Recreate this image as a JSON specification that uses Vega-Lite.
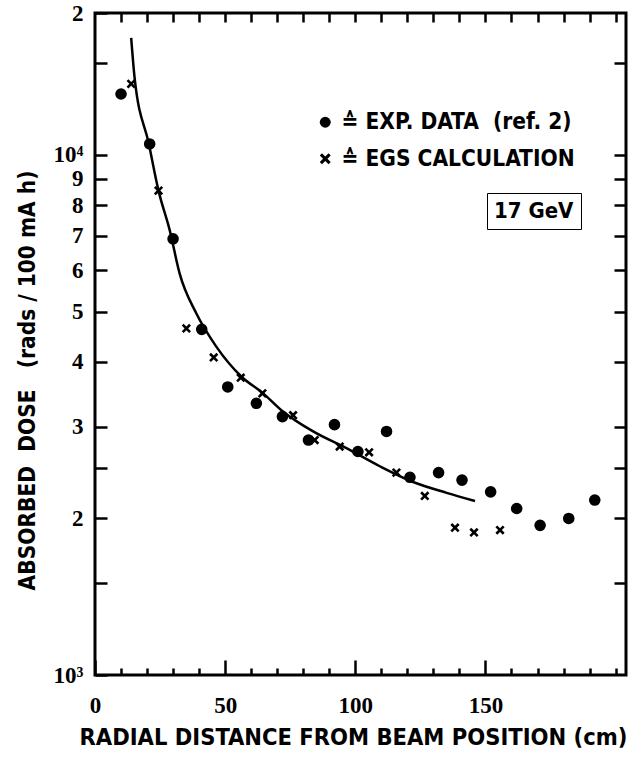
{
  "$schema": "https://vega.github.io/schema/vega-lite/v6.json",
  "autosize": {"type": "none"},
  "width": 531,
  "height": 662,
  "padding": {"left": 95, "top": 13, "right": 8, "bottom": 90},
  "background": "white",
  "config": {
    "view": {"stroke": "black", "strokeWidth": 3},
    "axis": {"domain": false, "grid": false, "tickColor": "black", "tickWidth": 2.5, "labelColor": "black", "titleColor": "black"},
    "legend": {"labelColor": "black"}
  },
  "datasets": {
    "curve": [
      {"r": 13.9, "dose": 16800, "energy": "17 GeV"},
      {"r": 15.2, "dose": 14100, "energy": "17 GeV"},
      {"r": 20.7, "dose": 10500, "energy": "17 GeV"},
      {"r": 24.4, "dose": 8540, "energy": "17 GeV"},
      {"r": 28.7, "dose": 7170, "energy": "17 GeV"},
      {"r": 32.5, "dose": 5920, "energy": "17 GeV"},
      {"r": 38.9, "dose": 4960, "energy": "17 GeV"},
      {"r": 46.6, "dose": 4280, "energy": "17 GeV"},
      {"r": 56.2, "dose": 3750, "energy": "17 GeV"},
      {"r": 64.6, "dose": 3480, "energy": "17 GeV"},
      {"r": 71.6, "dose": 3230, "energy": "17 GeV"},
      {"r": 83.8, "dose": 2940, "energy": "17 GeV"},
      {"r": 96.6, "dose": 2730, "energy": "17 GeV"},
      {"r": 109.4, "dose": 2520, "energy": "17 GeV"},
      {"r": 122.2, "dose": 2350, "energy": "17 GeV"},
      {"r": 135.1, "dose": 2240, "energy": "17 GeV"},
      {"r": 146, "dose": 2160, "energy": "17 GeV"}
    ],
    "exp": [
      {"r": 10, "dose": 13100, "series": "EXP. DATA (ref. 2)"},
      {"r": 21, "dose": 10500, "series": "EXP. DATA (ref. 2)"},
      {"r": 30, "dose": 6900, "series": "EXP. DATA (ref. 2)"},
      {"r": 41, "dose": 4620, "series": "EXP. DATA (ref. 2)"},
      {"r": 51, "dose": 3580, "series": "EXP. DATA (ref. 2)"},
      {"r": 62, "dose": 3330, "series": "EXP. DATA (ref. 2)"},
      {"r": 72, "dose": 3140, "series": "EXP. DATA (ref. 2)"},
      {"r": 82, "dose": 2830, "series": "EXP. DATA (ref. 2)"},
      {"r": 92, "dose": 3030, "series": "EXP. DATA (ref. 2)"},
      {"r": 101, "dose": 2690, "series": "EXP. DATA (ref. 2)"},
      {"r": 112, "dose": 2940, "series": "EXP. DATA (ref. 2)"},
      {"r": 121, "dose": 2400, "series": "EXP. DATA (ref. 2)"},
      {"r": 132, "dose": 2450, "series": "EXP. DATA (ref. 2)"},
      {"r": 141, "dose": 2370, "series": "EXP. DATA (ref. 2)"},
      {"r": 152, "dose": 2250, "series": "EXP. DATA (ref. 2)"},
      {"r": 162, "dose": 2090, "series": "EXP. DATA (ref. 2)"},
      {"r": 171, "dose": 1940, "series": "EXP. DATA (ref. 2)"},
      {"r": 182, "dose": 2000, "series": "EXP. DATA (ref. 2)"},
      {"r": 192, "dose": 2170, "series": "EXP. DATA (ref. 2)"}
    ],
    "egs": [
      {"r": 13.9, "dose": 13700, "series": "EGS CALCULATION"},
      {"r": 24.4, "dose": 8540, "series": "EGS CALCULATION"},
      {"r": 35.1, "dose": 4640, "series": "EGS CALCULATION"},
      {"r": 45.6, "dose": 4080, "series": "EGS CALCULATION"},
      {"r": 56, "dose": 3730, "series": "EGS CALCULATION"},
      {"r": 64.3, "dose": 3480, "series": "EGS CALCULATION"},
      {"r": 76.1, "dose": 3160, "series": "EGS CALCULATION"},
      {"r": 84.4, "dose": 2830, "series": "EGS CALCULATION"},
      {"r": 94, "dose": 2750, "series": "EGS CALCULATION"},
      {"r": 105.3, "dose": 2680, "series": "EGS CALCULATION"},
      {"r": 115.8, "dose": 2450, "series": "EGS CALCULATION"},
      {"r": 126.7, "dose": 2210, "series": "EGS CALCULATION"},
      {"r": 138.3, "dose": 1920, "series": "EGS CALCULATION"},
      {"r": 145.6, "dose": 1880, "series": "EGS CALCULATION"},
      {"r": 155.6, "dose": 1900, "series": "EGS CALCULATION"}
    ]
  },
  "layer": [
    {
      "data": {"name": "curve"},
      "mark": {"type": "line", "interpolate": "monotone", "strokeWidth": 2.5},
      "encoding": {
        "x": {
          "field": "r", "type": "quantitative",
          "scale": {"domain": [0, 204], "nice": false, "zero": false},
          "axis": {
            "orient": "bottom", "values": [0, 50, 100, 150], "tickSize": -15, "labelPadding": 34,
            "labelFont": "Liberation Sans Narrow", "labelFontWeight": "bold", "labelFontSize": 23,
            "labelFlush": false,
            "title": "RADIAL DISTANCE FROM BEAM POSITION (cm)",
            "titleFont": "DejaVu Sans Condensed", "titleFontWeight": "bold", "titleFontSize": 23.5,
            "titleX": 258, "titleY": 62, "titleBaseline": "middle", "titleAlign": "center"
          }
        },
        "y": {
          "field": "dose", "type": "quantitative",
          "scale": {"type": "log", "domain": [1000, 18750], "nice": false},
          "axis": {
            "orient": "left",
            "values": [1000, 1500, 2000, 2500, 3000, 4000, 5000, 6000, 7000, 8000, 9000, 10000, 15000, 18750],
            "labelExpr": "datum.value == 1000 ? '10³' : datum.value == 10000 ? '10⁴' : datum.value == 18750 ? '2' : (datum.value == 1500 || datum.value == 2500 || datum.value == 15000) ? '' : '' + (datum.value / 1000)",
            "tickSize": -12, "labelPadding": 24,
            "labelFont": "Liberation Sans Narrow", "labelFontWeight": "bold", "labelFontSize": 23,
            "labelFlush": false,
            "title": "ABSORBED\u00a0\u00a0DOSE\u00a0\u00a0\u00a0(rads\u00a0/\u00a0100\u00a0mA\u00a0h)",
            "titleFont": "DejaVu Sans Condensed", "titleFontWeight": "bold", "titleFontSize": 22.5,
            "titleX": -68, "titleY": 367, "titleBaseline": "middle", "titleAlign": "center", "titleAngle": -90
          }
        },
        "color": {
          "field": "energy", "type": "nominal",
          "scale": {"range": ["black"]},
          "legend": {
            "orient": "none", "legendX": 392, "legendY": 180, "title": null,
            "strokeColor": "black", "padding": 7,
            "symbolType": "circle", "symbolSize": 0, "symbolStrokeWidth": 0, "symbolOpacity": 0, "labelOffset": -22,
            "labelFont": "DejaVu Sans Condensed", "labelFontWeight": "bold", "labelFontSize": 22
          }
        }
      }
    },
    {
      "data": {"name": "exp"},
      "mark": {"type": "point", "filled": true, "fill": "black", "strokeWidth": 0, "opacity": 1, "size": 135},
      "encoding": {
        "x": {
          "field": "r", "type": "quantitative",
          "scale": {"domain": [0, 204], "nice": false, "zero": false},
          "axis": {"orient": "top", "values": [10, 20, 30, 40, 50, 60, 70, 80, 90, 100, 110, 120, 130, 140, 150, 160, 170, 180, 190, 200], "tickSize": -9, "labels": false, "title": null}
        },
        "y": {
          "field": "dose", "type": "quantitative",
          "scale": {"type": "log", "domain": [1000, 18750], "nice": false},
          "axis": {"orient": "right", "values": [1500, 2000, 2500, 3000, 4000, 5000, 6000, 7000, 8000, 9000, 10000, 15000], "tickSize": -12, "labels": false, "title": null}
        },
        "shape": {
          "field": "series", "type": "nominal",
          "scale": {"domain": ["EXP. DATA (ref. 2)", "EGS CALCULATION"], "range": ["circle", "M-1,-0.6L-0.6,-1L0,-0.4L0.6,-1L1,-0.6L0.4,0L1,0.6L0.6,1L0,0.4L-0.6,1L-1,0.6L-0.4,0Z"]},
          "legend": {
            "orient": "none", "legendX": 219, "legendY": 98, "title": null, "padding": 0,
            "labelExpr": "datum.label == 'EXP. DATA (ref. 2)' ? '≙ EXP. DATA\u00a0\u00a0(ref.\u00a02)' : '≙ EGS CALCULATION'",
            "labelLimit": 400,
            "symbolSize": 120, "symbolFillColor": "black", "symbolStrokeWidth": 0,
            "rowPadding": 13.5, "labelOffset": 5,
            "labelFont": "DejaVu Sans Condensed", "labelFontWeight": "bold", "labelFontSize": 22.5
          }
        }
      }
    },
    {
      "data": {"name": "egs"},
      "mark": {"type": "point", "filled": true, "fill": "black", "strokeWidth": 0, "opacity": 1, "size": 85, "shape": "M-1,-0.6L-0.6,-1L0,-0.4L0.6,-1L1,-0.6L0.4,0L1,0.6L0.6,1L0,0.4L-0.6,1L-1,0.6L-0.4,0Z"},
      "encoding": {
        "x": {
          "field": "r", "type": "quantitative",
          "scale": {"domain": [0, 204], "nice": false, "zero": false},
          "axis": {"orient": "bottom", "values": [10, 20, 30, 40, 60, 70, 80, 90, 110, 120, 130, 140, 160, 170, 180, 190, 200], "tickSize": -7, "labels": false, "title": null}
        },
        "y": {
          "field": "dose", "type": "quantitative",
          "scale": {"type": "log", "domain": [1000, 18750], "nice": false},
          "axis": null
        }
      }
    }
  ],
  "resolve": {"scale": {"x": "independent", "y": "independent"}, "axis": {"x": "independent", "y": "independent"}}
}
